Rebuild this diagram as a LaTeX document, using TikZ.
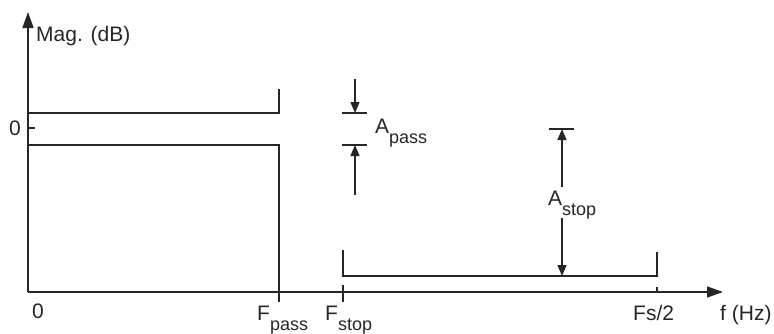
\documentclass[tikz,border=0pt]{standalone}
\usepackage{fontspec}
\setmainfont{Liberation Sans}
\usetikzlibrary{arrows.meta}
\newcommand{\mainsz}{\fontsize{21}{24}\selectfont}
\newcommand{\subsz}{\fontsize{18}{20}\selectfont}
\newcommand{\lowsub}[1]{\raisebox{-10pt}{\subsz #1}}
\begin{document}
\begin{tikzpicture}[x=1pt,y=-1pt,
  line/.style={line width=1.5pt,black!85},
  axisline/.style={line width=1.5pt,black!85,-{Triangle[length=16pt,width=11pt]}},
  dimarrow/.style={line width=1.4pt,black!85,-{Triangle[length=11pt,width=9pt]}},
  lbl/.style={inner sep=0pt,anchor=base west,text=black!85,font=\mainsz}]
\useasboundingbox (0,0) rectangle (774,333);
% axes
\coordinate (O) at (28,292);
\coordinate (ytop) at (28,12);
\coordinate (xend) at (723,292);
\draw[axisline] (O) -- (ytop);
\draw[axisline] (O) -- (xend);
% passband limits
\coordinate (pu0) at (28,113); \coordinate (pu1) at (279,113); \coordinate (pu2) at (279,89);
\coordinate (pl0) at (28,145); \coordinate (pl1) at (279,145); \coordinate (pl2) at (279,292);
\draw[line] (pu0) -- (pu1) -- (pu2);
\draw[line] (pl0) -- (pl1) -- (pl2);
% zero tick
\coordinate (z0) at (28,128); \coordinate (z1) at (35,128);
\draw[line] (z0) -- (z1);
% frequency ticks
\coordinate (fp0) at (279,292); \coordinate (fp1) at (279,302);
\coordinate (fs0) at (343,285); \coordinate (fs1) at (343,302);
\coordinate (fh0) at (657,287); \coordinate (fh1) at (657,292);
\draw[line] (fp0) -- (fp1);
\draw[line] (fs0) -- (fs1);
\draw[line] (fh0) -- (fh1);
% stopband
\coordinate (s0) at (343,250); \coordinate (s1) at (343,276);
\coordinate (s2) at (657,276); \coordinate (s3) at (657,252);
\draw[line] (s0) -- (s1) -- (s2) -- (s3);
% Apass dimension
\coordinate (ap0) at (342,113); \coordinate (ap1) at (367,113);
\coordinate (ap2) at (342,145); \coordinate (ap3) at (367,145);
\draw[line] (ap0) -- (ap1);
\draw[line] (ap2) -- (ap3);
\coordinate (apa) at (355,79); \coordinate (apb) at (355,113);
\coordinate (apc) at (355,195); \coordinate (apd) at (355,145);
\draw[dimarrow] (apa) -- (apb);
\draw[dimarrow] (apc) -- (apd);
% Astop dimension
\coordinate (as0) at (549,129); \coordinate (as1) at (574,129);
\draw[line] (as0) -- (as1);
\coordinate (asa) at (562,187); \coordinate (asb) at (562,129);
\coordinate (asc) at (562,218); \coordinate (asd) at (562,276);
\draw[dimarrow] (asa) -- (asb);
\draw[dimarrow] (asc) -- (asd);
% labels
\node[lbl] (mag) at (36,41) {Mag. (dB)};
\node[lbl,anchor=base] (zeroy) at (15,135) {0};
\node[lbl,anchor=base] (zerox) at (38,318) {0};
\node[lbl] (fpass) at (257,320) {F\lowsub{pass}};
\node[lbl] (fstop) at (325,320) {F\lowsub{stop}};
\node[lbl] (fs2) at (633,320) {Fs/2};
\node[lbl] (fhz) at (720,320) {f (Hz)};
\node[lbl] (apass) at (375,133) {A\lowsub{pass}};
\node[lbl] (astop) at (548,205) {A\lowsub{stop}};
\end{tikzpicture}
\end{document}
